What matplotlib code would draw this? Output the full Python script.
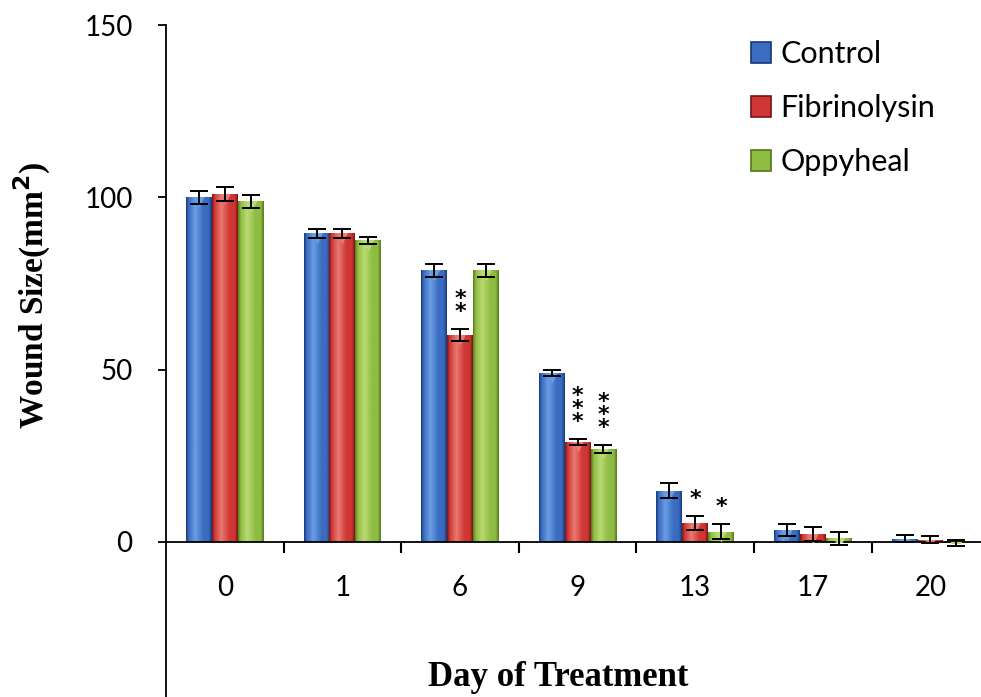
import numpy as np
import matplotlib
matplotlib.use("Agg")
import matplotlib.pyplot as plt
from matplotlib.colors import LinearSegmentedColormap
from matplotlib.patches import Patch, Rectangle

days = ["0", "1", "6", "9", "13", "17", "20"]
groups = ["Control", "Fibrinolysin", "Oppyheal"]

control = [100.0, 89.5, 78.8, 49.1, 14.9, 3.5, 0.9]
fibrinolysin = [101.0, 89.5, 60.1, 29.0, 5.5, 2.3, 0.7]
oppyheal = [98.8, 87.5, 78.8, 27.0, 3.0, 1.0, -0.3]

control_err = [1.8, 1.2, 1.8, 0.9, 2.2, 1.8, 1.0]
fibrinolysin_err = [2.0, 1.2, 1.8, 1.0, 2.0, 1.9, 1.0]
oppyheal_err = [1.9, 1.0, 1.8, 1.2, 2.2, 1.9, 1.0]

# significance marks: (series index, day index, label)
stars = [(1, 2, "*\n*"), (1, 3, "*\n*\n*"), (2, 3, "*\n*\n*"), (1, 4, "*"), (2, 4, "*")]

# (dark edge, body, highlight) per series
palette = [("#173676", "#3a6cc2", "#6a9ee3"),
           ("#741414", "#cf3634", "#ea7a72"),
           ("#52761a", "#8fbc42", "#b9da72")]

values = [control, fibrinolysin, oppyheal]
errors = [control_err, fibrinolysin_err, oppyheal_err]

fig = plt.figure(figsize=(9.81, 6.97), dpi=100)
ax = fig.add_axes([166 / 981, 0.0, 815 / 981, 1 - 25 / 697])

x = np.arange(len(days))
width = 0.22
offsets = [-width, 0.0, width]
grad = np.linspace(0, 1, 128).reshape(1, -1)

for k, (vals, errs, (dark, body, light)) in enumerate(zip(values, errors, palette)):
    cmap = LinearSegmentedColormap.from_list(
        f"cyl{k}", [(0, dark), (0.1, body), (0.36, light), (0.68, body), (0.88, body), (1, dark)])
    xs = x + offsets[k]
    for xc, v in zip(xs, vals):
        x0, x1 = xc - width / 2, xc + width / 2
        lo, hi = min(0, v), max(0, v)
        im = ax.imshow(grad, cmap=cmap, extent=(x0, x1, lo, hi), aspect="auto",
                       interpolation="bicubic", zorder=2)
        clip = Rectangle((x0, lo), width, hi - lo, transform=ax.transData)
        im.set_clip_path(clip)
        # light cap on top of the cylinder
        tip, = ax.plot([xc], [v - 1.2], marker="v", ms=9, color=light, mec="none", zorder=3)
        tip.set_clip_path(clip)
    ax.errorbar(xs, vals, yerr=errs, fmt="none", ecolor="black", elinewidth=1.4,
                capsize=6.5, capthick=1.4, zorder=4)

for k, d, label in stars:
    top = values[k][d] + errors[k][d]
    ax.text(x[d] + offsets[k], top + 2.0, label, ha="center", va="bottom",
            fontsize=16, fontweight="bold", linespacing=0.55, zorder=5)

ax.set_xlim(-0.5, 815 / 117.6 - 0.5)
ax.set_ylim(-45, 150)

for side in ("top", "right"):
    ax.spines[side].set_visible(False)
ax.spines["bottom"].set_position(("data", 0))
ax.spines["left"].set_linewidth(1.3)
ax.spines["bottom"].set_linewidth(1.3)

ax.set_yticks([0, 50, 100, 150])
ax.set_yticklabels(["0", "50", "100", "150"], family="Lato", fontsize=20)
ax.tick_params(axis="y", direction="out", length=6, width=1.3, pad=18)
ax.set_xticks(x[:-1] + 0.5)
ax.set_xticklabels([])
ax.set_xticks(x, minor=True)
ax.set_xticklabels(days, minor=True, family="Lato", fontsize=20)
ax.tick_params(axis="x", which="major", direction="out", length=8, width=1.5)
ax.tick_params(axis="x", which="minor", length=0, pad=24)

handles = [Patch(facecolor=body, edgecolor=dark, linewidth=1.2) for dark, body, _ in palette]
ax.legend(handles, groups, loc="upper left", bbox_to_anchor=(736 / 981, 1 - 25 / 697),
          bbox_transform=fig.transFigure, frameon=False, prop={"family": "Lato", "size": 22},
          handlelength=0.65, handleheight=0.65, handletextpad=0.3, labelspacing=0.85, borderpad=0)

fig.text(32 / 981, 1 - 295 / 697, "Wound Size(mm$^{\\mathbf{2}}$)", rotation=90, ha="center",
         va="center", family="Liberation Serif", fontweight="bold", fontsize=24)
fig.text(558 / 981, 1 - 678 / 697, "Day of Treatment", ha="center", va="center",
         family="Liberation Serif", fontweight="bold", fontsize=25)

fig.savefig("out.png", dpi=100)
